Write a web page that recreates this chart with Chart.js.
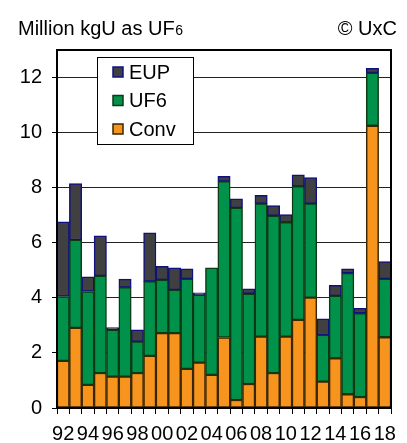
<!DOCTYPE html>
<html><head><meta charset="utf-8">
<script src="https://cdn.jsdelivr.net/npm/chart.js@4.4.0/dist/chart.umd.min.js"></script>
<style>html,body{margin:0;padding:0;background:#fff;overflow:hidden}canvas{display:block}</style>
</head><body>
<canvas id="c" width="407" height="443"></canvas>
<script>
const years = ['1992','1993','1994','1995','1996','1997','1998','1999','2000','2001','2002','2003','2004','2005','2006','2007','2008','2009','2010','2011','2012','2013','2014','2015','2016','2017','2018'];
const tickLabels = ['92','','94','','96','','98','','00','','02','','04','','06','','08','','10','','12','','14','','16','','18'];
const conv = [1.71,2.91,0.84,1.27,1.14,1.14,1.27,1.89,2.72,2.72,1.42,1.65,1.20,2.56,0.29,0.87,2.59,1.27,2.59,3.20,4.01,0.96,1.80,0.50,0.40,10.25,2.57];
const uf6  = [2.34,3.19,3.39,3.53,1.70,3.24,1.14,2.71,1.93,1.57,3.27,2.46,3.89,5.67,6.98,3.28,4.83,5.71,4.15,4.85,3.41,1.69,2.27,4.40,3.04,1.92,2.12];
const eup  = [2.71,2.05,0.53,1.45,0.08,0.30,0.43,1.76,0.49,0.80,0.36,0.07,0.00,0.18,0.33,0.18,0.30,0.37,0.28,0.42,0.95,0.59,0.38,0.15,0.18,0.16,0.63];
const seriesNames = ['Conv','UF6','EUP'];
const yTicks = [0,2,4,6,8,10,12];
const subtitle = 'Million kgU as UF';
const subtitleSub = '6';
const credit = '\u00A9 UxC';

const FONT = '"Liberation Sans", Arial, sans-serif';
const fills = ['#F7941D','#00924A','#404040'];
const borders = ['#3a2600','#0b3a14','#101080'];

const extras = {
  id: 'extras',
  afterDatasetsDraw(chart) {
    const ctx = chart.ctx, a = chart.chartArea;
    ctx.save();
    ctx.strokeStyle = '#000'; ctx.lineWidth = 2;
    ctx.strokeRect(a.left, a.top, a.right - a.left, a.bottom - a.top);
    const lx = 97.5, ly = 57.5, lw = 96, lh = 87;
    ctx.fillStyle = '#fff'; ctx.fillRect(lx, ly, lw, lh);
    ctx.lineWidth = 1; ctx.strokeStyle = '#000'; ctx.strokeRect(lx, ly, lw, lh);
    const ds = chart.data.datasets.slice().reverse();
    ds.forEach((d, i) => {
      const cy = 72 + i * 28.5;
      ctx.fillStyle = d.backgroundColor; ctx.fillRect(113, cy - 5, 10, 10);
      ctx.lineWidth = 1.5; ctx.strokeStyle = d.borderColor; ctx.strokeRect(113, cy - 5, 10, 10);
      ctx.fillStyle = '#000'; ctx.font = '20px ' + FONT; ctx.textBaseline = 'middle'; ctx.textAlign = 'left';
      ctx.fillText(d.label, 129, cy + 1);
    });
    ctx.restore();
  },
  afterDraw(chart) {
    const ctx = chart.ctx;
    ctx.save();
    ctx.fillStyle = '#000'; ctx.textBaseline = 'alphabetic';
    ctx.font = '20px ' + FONT; ctx.textAlign = 'left';
    ctx.fillText(subtitle, 18, 35);
    const w = ctx.measureText(subtitle).width;
    ctx.font = '14px ' + FONT;
    ctx.fillText(subtitleSub, 18 + w + 0.5, 35);
    ctx.font = '20px ' + FONT; ctx.textAlign = 'right';
    ctx.fillText(credit, 397, 35);
    ctx.restore();
  }
};

const mk = (i, data) => ({
  label: seriesNames[i], data,
  backgroundColor: fills[i], borderColor: borders[i], borderWidth: 1.5,
  borderSkipped: false, barPercentage: 1, categoryPercentage: 1
});

new Chart(document.getElementById('c'), {
  type: 'bar',
  data: { labels: years, datasets: [mk(0, conv), mk(1, uf6), mk(2, eup)] },
  options: {
    responsive: false, animation: false, devicePixelRatio: 1,
    layout: { padding: { top: 50, right: 16, left: 0, bottom: 0 } },
    plugins: { legend: { display: false }, tooltip: { enabled: false } },
    scales: {
      x: {
        stacked: true, offset: true,
        grid: { display: true, drawOnChartArea: false, offset: true, tickLength: 6, color: '#000', lineWidth: 1 },
        border: { display: true, color: '#000', width: 2 },
        ticks: { autoSkip: false, maxRotation: 0, minRotation: 0, padding: 8, color: '#000',
          font: { size: 20, family: FONT }, callback: (v, i) => tickLabels[i] },
        afterFit: s => { s.height = 35; }
      },
      y: {
        stacked: true, min: 0, max: 13,
        afterBuildTicks: s => { s.ticks = yTicks.map(v => ({ value: v })); },
        grid: { color: '#222', lineWidth: 1, tickLength: 5, tickColor: '#000' },
        border: { display: true, color: '#000', width: 2 },
        ticks: { padding: 10, color: '#000', font: { size: 20, family: FONT } },
        afterFit: s => { s.width = 57; }
      }
    }
  },
  plugins: [extras]
});
</script>
</body></html>
